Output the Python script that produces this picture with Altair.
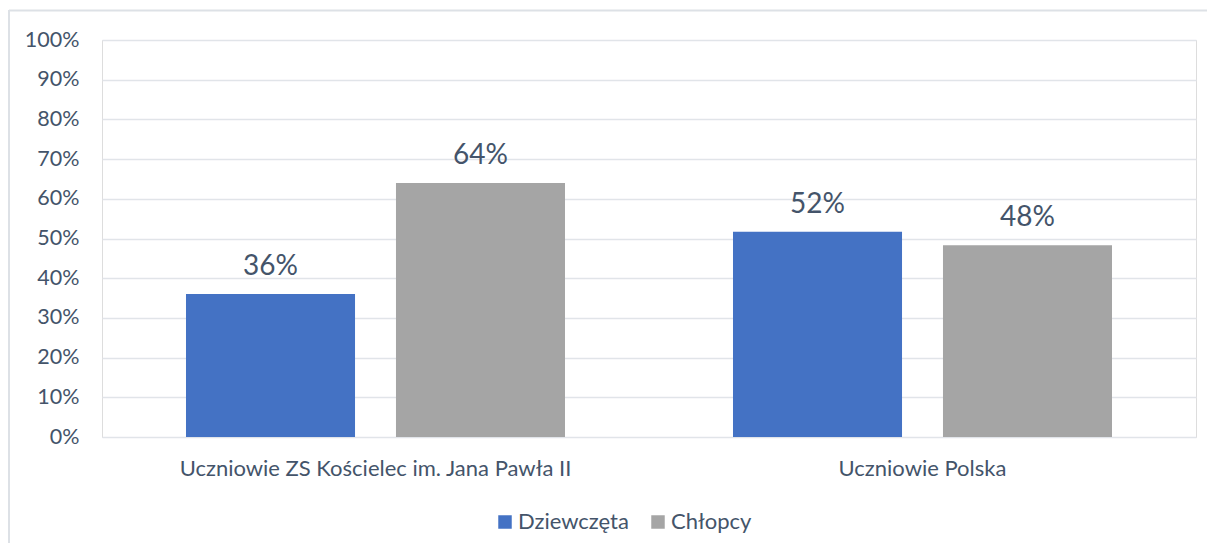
import altair as alt
import pandas as pd

categories = ["Uczniowie ZS  Kościelec im. Jana Pawła II", "Uczniowie Polska"]
series = ["Dziewczęta", "Chłopcy"]
dziewczeta = [0.36, 0.517]
chlopcy = [0.64, 0.483]
colors = ["#4472C4", "#A5A5A5"]
y_ticks = [0, 0.1, 0.2, 0.3, 0.4, 0.5, 0.6, 0.7, 0.8, 0.9, 1.0]

rows = []
for i, c in enumerate(categories):
    rows.append({"kat": c, "plec": series[0], "val": dziewczeta[i]})
    rows.append({"kat": c, "plec": series[1], "val": chlopcy[i]})
df = pd.DataFrame(rows)

FONT = "Lato"
TXT = "#44546A"

x_enc = alt.X(
    "kat:N",
    sort=categories,
    scale=alt.Scale(paddingInner=0, paddingOuter=0),
    axis=alt.Axis(title=None, labelAngle=0, domain=False, ticks=False, labelLimit=0,
                  labelPadding=21, labelFontSize=22, labelFont=FONT, labelColor=TXT),
)
xo_enc = alt.XOffset("plec:N", sort=series,
                     scale=alt.Scale(paddingInner=0.195, paddingOuter=0.4))
y_enc = alt.Y(
    "val:Q",
    scale=alt.Scale(domain=[0, 1], nice=False),
    axis=alt.Axis(title=None, values=y_ticks, format=".0%", domain=False, ticks=False,
                  labelPadding=23, labelFontSize=21.5, labelFont=FONT, labelColor=TXT,
                  gridColor="#E1E4E9", gridWidth=1.5),
)

base = alt.Chart(df)

bars = base.mark_bar().encode(
    x=x_enc,
    xOffset=xo_enc,
    y=y_enc,
    color=alt.Color(
        "plec:N",
        sort=series,
        scale=alt.Scale(domain=series, range=colors),
        legend=alt.Legend(title=None, orient="none", direction="horizontal",
                          legendX=392, legendY=471, symbolType="square",
                          symbolSize=182, symbolStrokeWidth=0,
                          labelFont=FONT, labelFontSize=22, labelColor=TXT,
                          columnPadding=18, labelOffset=2),
    ),
)

labels = base.mark_text(font=FONT, fontSize=28, color=TXT, baseline="alphabetic", dy=-19).encode(
    x=x_enc,
    xOffset=xo_enc,
    y=y_enc,
    text=alt.Text("val:Q", format=".0%"),
)

frame_df = pd.DataFrame({"f": [0]})
top_border = alt.Chart(frame_df).mark_rule(color="#DDE1E6", strokeWidth=2).encode(
    x=alt.value(-93), x2=alt.value(1200), y=alt.value(-29.5)
)
left_border = alt.Chart(frame_df).mark_rule(color="#DDE1E6", strokeWidth=2).encode(
    x=alt.value(-93), y=alt.value(-30), y2=alt.value(520)
)

chart = alt.layer(top_border, left_border, bars, labels).properties(
    width=1094,
    height=397,
    autosize=alt.AutoSizeParams(type="none"),
    padding={"left": 94, "top": 32, "right": 11, "bottom": 106},
).configure_view(stroke=None).configure(background="white")

chart.save("out.html", embed_options={"renderer": "svg", "actions": False})
